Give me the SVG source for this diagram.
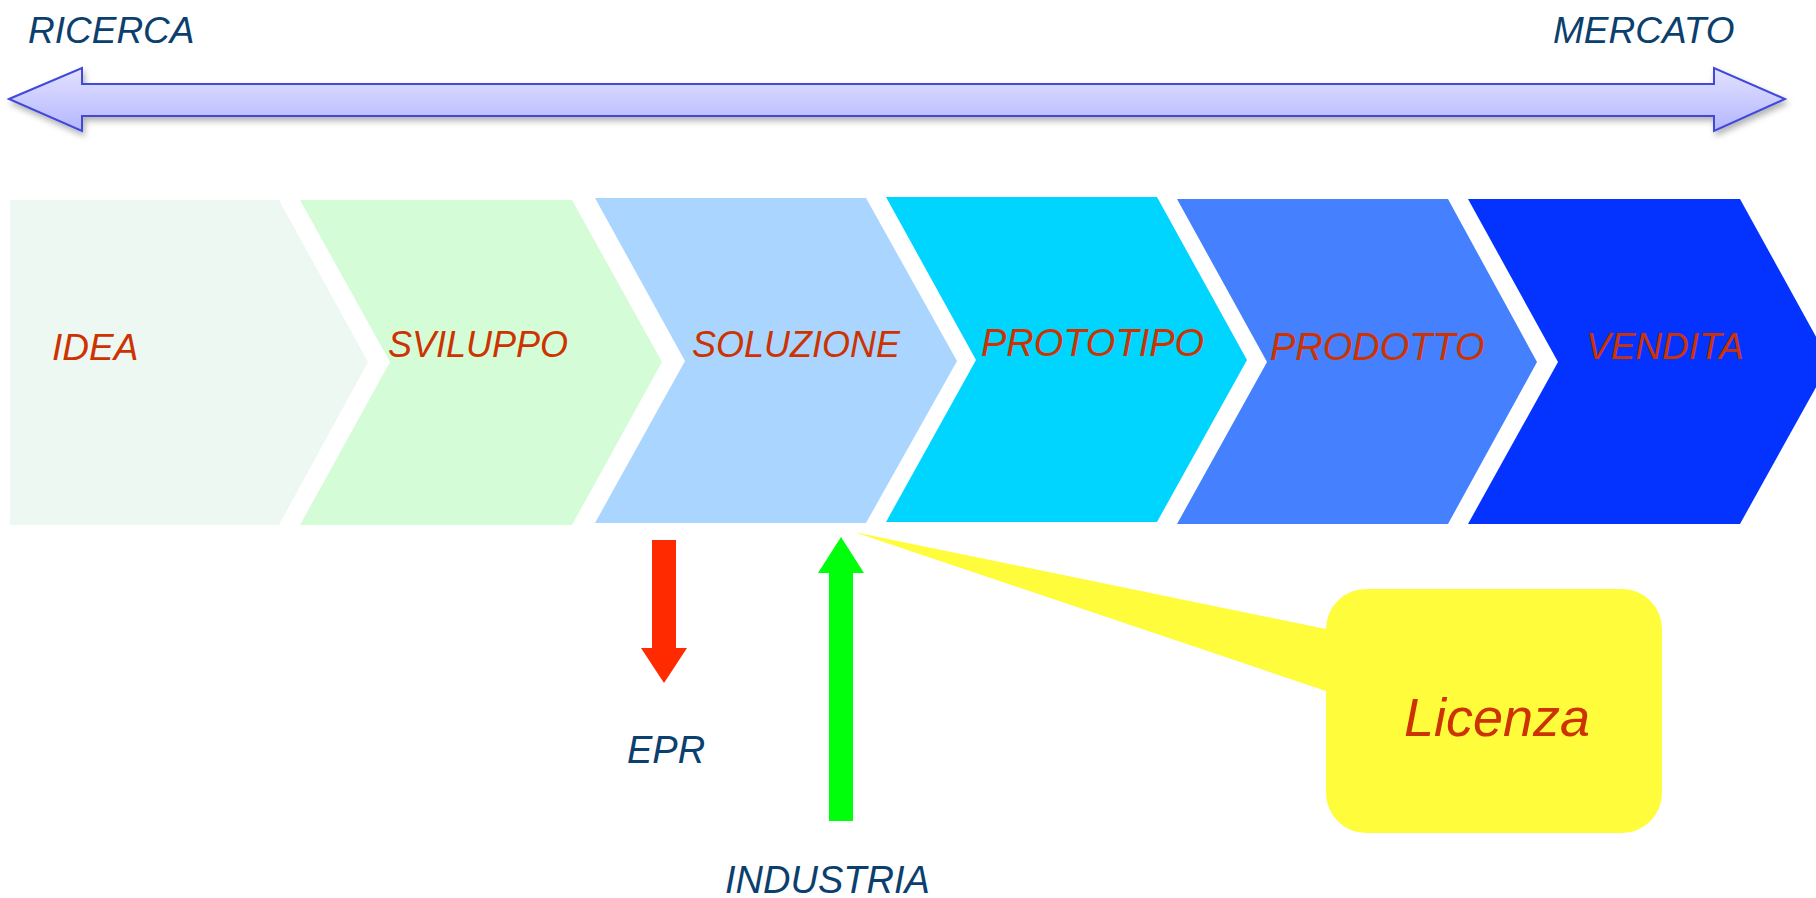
<svg xmlns="http://www.w3.org/2000/svg" width="1816" height="898" viewBox="0 0 1816 898">
<defs>
<linearGradient id="barGrad" x1="0" y1="0" x2="0" y2="1">
<stop offset="0" stop-color="#E2E2FF"/>
<stop offset="1" stop-color="#B4B6FF"/>
</linearGradient>
<filter id="shadow" x="-5%" y="-50%" width="110%" height="200%">
<feDropShadow dx="2" dy="4" stdDeviation="3" flood-color="#000" flood-opacity="0.3"/>
</filter>
</defs>
<style>
.lbl{font-family:"Liberation Sans",Arial,sans-serif;font-style:italic;fill:#CC3300}
.blue{font-family:"Liberation Sans",Arial,sans-serif;font-style:italic;fill:#0B406E}
</style>
<rect width="1816" height="898" fill="#FFFFFF"/>

<g id="axis">
<path d="M9,99 L82,68 L82,84 L1714,84 L1714,68 L1785,99 L1714,131 L1714,116 L82,116 L82,131 Z" fill="url(#barGrad)" stroke="#3F48D8" stroke-width="2" stroke-linejoin="miter" filter="url(#shadow)"/>
<text class="blue" x="28" y="43" font-size="37">RICERCA</text>
<text class="blue" x="1553" y="43" font-size="37">MERCATO</text>
</g>

<g id="idea">
<path d="M10,200 L279,200 L368,362 L279,525 L10,525 Z" fill="#EEF8F2"/>
<text class="lbl" x="52" y="360" font-size="37">IDEA</text>
</g>
<g id="sviluppo">
<path d="M300,200 L572,200 L662,362 L572,525 L300,525 L390,362 Z" fill="#D4FCD6"/>
<text class="lbl" x="388" y="357" font-size="36">SVILUPPO</text>
</g>
<g id="soluzione">
<path d="M595,198 L866,198 L957,361 L866,523 L595,523 L685,361 Z" fill="#A9D5FF"/>
<text class="lbl" x="692" y="357" font-size="36">SOLUZIONE</text>
</g>
<g id="prototipo">
<path d="M886,197 L1157,197 L1247,360 L1157,522 L886,522 L976,360 Z" fill="#00D5FF"/>
<text class="lbl" x="981" y="356" font-size="38">PROTOTIPO</text>
</g>
<g id="prodotto">
<path d="M1177,199 L1448,199 L1537,362 L1448,524 L1177,524 L1267,362 Z" fill="#4581FF"/>
<text class="lbl" x="1270" y="360" font-size="38">PRODOTTO</text>
</g>
<g id="vendita">
<path d="M1468,199 L1740,199 L1830,362 L1740,524 L1468,524 L1558,362 Z" fill="#0433FF"/>
<text class="lbl" x="1586" y="359" font-size="37">VENDITA</text>
</g>

<g id="licenza">
<path d="M1366,589 H1622 A40,40 0 0 1 1662,629 V793 A40,40 0 0 1 1622,833 H1366 A40,40 0 0 1 1326,793 V691 L854,532 L1326,629 A40,40 0 0 1 1366,589 Z" fill="#FFFC3C"/>
<text class="lbl" x="1404" y="736" font-size="54">Licenza</text>
</g>

<g id="epr">
<text class="blue" x="627" y="763" font-size="38">EPR</text>
</g>
<g id="industria">
<text class="blue" x="725" y="893" font-size="38">INDUSTRIA</text>
</g>

<g id="connectors">
<path d="M652,540 H676 V648 H687 L664,683 L641,648 H652 Z" fill="#FF2A00"/>
<path d="M829,821 V573 H818 L841,537 L864,573 H853 V821 Z" fill="#00FF0A"/>
</g>
</svg>
